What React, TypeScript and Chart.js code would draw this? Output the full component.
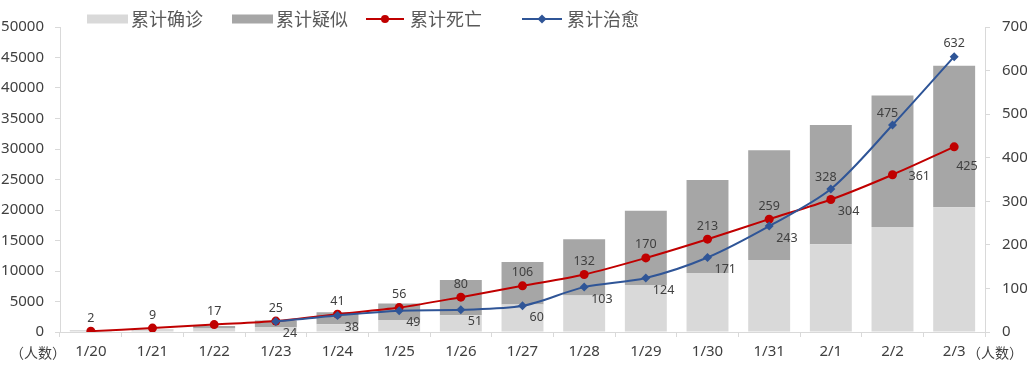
import React, { useEffect, useRef } from 'react';
import { Chart, registerables } from 'chart.js';

Chart.register(...registerables);

const categories = ['1/20', '1/21', '1/22', '1/23', '1/24', '1/25', '1/26', '1/27', '1/28', '1/29', '1/30', '1/31', '2/1', '2/2', '2/3'];
const confirmed = [291, 440, 571, 830, 1287, 1975, 2744, 4515, 5974, 7711, 9692, 11791, 14380, 17205, 20438];
const suspected = [54, 37, 393, 1072, 1965, 2684, 5794, 6973, 9239, 12167, 15238, 17988, 19544, 21558, 23214];
const deaths = [2, 9, 17, 25, 41, 56, 80, 106, 132, 170, 213, 259, 304, 361, 425];
const cured: (number | null)[] = [null, null, null, 24, 38, 49, 51, 60, 103, 124, 171, 243, 328, 475, 632];

const seriesNames = ['累计确诊', '累计疑似', '累计死亡', '累计治愈'];
const unitLabel = '（人数）';

// label placement keywords (style, not data)
const deathPlacement = ['top', 'top', 'top', 'top', 'top', 'top', 'top', 'top', 'top', 'top', 'top', 'top', 'bottomRight', 'right', 'below'];
const curePlacement = ['', '', '', 'bottomRight', 'bottomRight', 'bottomRight', 'bottomRight', 'bottomRight', 'bottomRight', 'bottomRight', 'bottomRight', 'bottomRight', 'topLeft', 'topLeft', 'top'];

const COLORS = {
  light: '#D9D9D9',
  dark: '#A6A6A6',
  red: '#C00000',
  blue: '#2F5597',
  axis: '#D9D9D9',
  text: '#404040',
  legendText: '#595959',
};

const NUM_FONT = '"Noto Sans", "Open Sans", sans-serif';
const CJK_FONT = '"Noto Sans CJK SC", "Noto Sans", sans-serif';

const overlayPlugin = {
  id: 'overlay',
  afterDraw(chart: any) {
    const ctx = chart.ctx as CanvasRenderingContext2D;
    ctx.save();

    // data labels
    ctx.font = '12.5px ' + NUM_FONT;
    ctx.fillStyle = COLORS.text;
    const drawLabels = (dsIndex: number, values: (number | null)[], placement: string[]) => {
      const meta = chart.getDatasetMeta(dsIndex);
      values.forEach((v, i) => {
        if (v === null || v === undefined) return;
        const pt = meta.data[i];
        if (!pt) return;
        const x = pt.x, y = pt.y;
        const p = placement[i];
        const txt = String(v);
        ctx.textBaseline = 'middle';
        if (p === 'top') {
          ctx.textAlign = 'center';
          ctx.fillText(txt, x, y - 13);
        } else if (p === 'topLeft') {
          ctx.textAlign = 'center';
          ctx.fillText(txt, x - 5, y - 12);
        } else if (p === 'bottomRight') {
          ctx.textAlign = 'left';
          ctx.fillText(txt, x + 7, y + 12);
        } else if (p === 'right') {
          ctx.textAlign = 'left';
          ctx.fillText(txt, x + 16, y + 2);
        } else if (p === 'below') {
          ctx.textAlign = 'left';
          ctx.fillText(txt, x + 2, y + 20);
        }
      });
    };
    drawLabels(2, deaths, deathPlacement);
    drawLabels(3, cured, curePlacement);

    // legend
    const ly = 19;
    ctx.textAlign = 'left';
    ctx.textBaseline = 'middle';
    ctx.font = '18px ' + CJK_FONT;
    ctx.fillStyle = COLORS.light;
    ctx.fillRect(87, ly - 4.5, 41, 9);
    ctx.fillStyle = COLORS.legendText;
    ctx.fillText(seriesNames[0], 131, ly);
    ctx.fillStyle = COLORS.dark;
    ctx.fillRect(232, ly - 4.5, 41, 9);
    ctx.fillStyle = COLORS.legendText;
    ctx.fillText(seriesNames[1], 276, ly);
    // red
    ctx.strokeStyle = COLORS.red;
    ctx.lineWidth = 2;
    ctx.beginPath();
    ctx.moveTo(366, ly);
    ctx.lineTo(404, ly);
    ctx.stroke();
    ctx.fillStyle = COLORS.red;
    ctx.beginPath();
    ctx.arc(385, ly, 4, 0, Math.PI * 2);
    ctx.fill();
    ctx.fillStyle = COLORS.legendText;
    ctx.fillText(seriesNames[2], 410, ly);
    // blue
    ctx.strokeStyle = COLORS.blue;
    ctx.beginPath();
    ctx.moveTo(522, ly);
    ctx.lineTo(562, ly);
    ctx.stroke();
    ctx.fillStyle = COLORS.blue;
    ctx.beginPath();
    ctx.moveTo(542, ly - 4.5);
    ctx.lineTo(546.5, ly);
    ctx.lineTo(542, ly + 4.5);
    ctx.lineTo(537.5, ly);
    ctx.closePath();
    ctx.fill();
    ctx.fillStyle = COLORS.legendText;
    ctx.fillText(seriesNames[3], 567, ly);

    // unit labels
    ctx.font = '14px ' + CJK_FONT;
    ctx.fillStyle = COLORS.text;
    ctx.textAlign = 'left';
    ctx.fillText(unitLabel, 10, 353);
    ctx.fillText(unitLabel, 967, 353);

    ctx.restore();
  },
};

export default function App() {
  const ref = useRef<HTMLCanvasElement>(null);
  useEffect(() => {
    document.body.style.margin = '0';
    const tickFont = { family: NUM_FONT, size: 15 };
    const plain = (v: any) => String(v);
    const chart = new Chart(ref.current as HTMLCanvasElement, {
      type: 'bar',
      data: {
        labels: categories,
        datasets: [
          {
            type: 'bar',
            label: seriesNames[0],
            data: confirmed,
            backgroundColor: COLORS.light,
            yAxisID: 'y',
            stack: 's',
            barPercentage: 0.68,
            categoryPercentage: 1,
            order: 3,
          },
          {
            type: 'bar',
            label: seriesNames[1],
            data: suspected,
            backgroundColor: COLORS.dark,
            yAxisID: 'y',
            stack: 's',
            barPercentage: 0.68,
            categoryPercentage: 1,
            order: 3,
          },
          {
            type: 'line',
            label: seriesNames[2],
            data: deaths,
            yAxisID: 'y1',
            borderColor: COLORS.red,
            backgroundColor: COLORS.red,
            borderWidth: 2,
            pointRadius: 4.5,
            pointStyle: 'circle',
            pointBorderWidth: 0,
            tension: 0.3,
            order: 1,
          },
          {
            type: 'line',
            label: seriesNames[3],
            data: cured,
            yAxisID: 'y1',
            borderColor: COLORS.blue,
            backgroundColor: COLORS.blue,
            borderWidth: 2,
            pointRadius: 4.5,
            pointStyle: 'rectRot',
            pointBorderWidth: 0,
            tension: 0.3,
            order: 0,
          },
        ] as any,
      },
      options: {
        responsive: true,
        maintainAspectRatio: false,
        animation: false,
        layout: { padding: { top: 27, left: 0, right: 0, bottom: 0 } },
        plugins: {
          legend: { display: false },
          tooltip: { enabled: false },
        },
        scales: {
          x: {
            stacked: true,
            offset: true,
            grid: {
              offset: true,
              drawOnChartArea: false,
              drawTicks: true,
              tickLength: 5,
              color: COLORS.axis,
            },
            border: { color: COLORS.axis },
            ticks: { font: tickFont, color: COLORS.text, padding: 6, maxRotation: 0, autoSkip: false },
            afterFit: (s: any) => { s.height = 34; },
          },
          y: {
            stacked: true,
            position: 'left',
            min: 0,
            max: 50000,
            ticks: { stepSize: 5000, font: tickFont, color: COLORS.text, padding: 11, callback: plain },
            grid: { drawOnChartArea: false, tickLength: 5, color: COLORS.axis },
            border: { color: COLORS.axis },
            afterFit: (s: any) => { s.width = 60; },
          },
          y1: {
            position: 'right',
            min: 0,
            max: 700,
            ticks: { stepSize: 100, font: tickFont, color: COLORS.text, padding: 12, callback: plain },
            grid: { drawOnChartArea: false, tickLength: 5, color: COLORS.axis },
            border: { color: COLORS.axis },
            afterFit: (s: any) => { s.width = 42; },
          },
        } as any,
      },
      plugins: [overlayPlugin],
    });
    return () => chart.destroy();
  }, []);
  return (
    <div style={{ width: 1027, height: 366, position: 'relative' }}>
      <canvas ref={ref} />
    </div>
  );
}
